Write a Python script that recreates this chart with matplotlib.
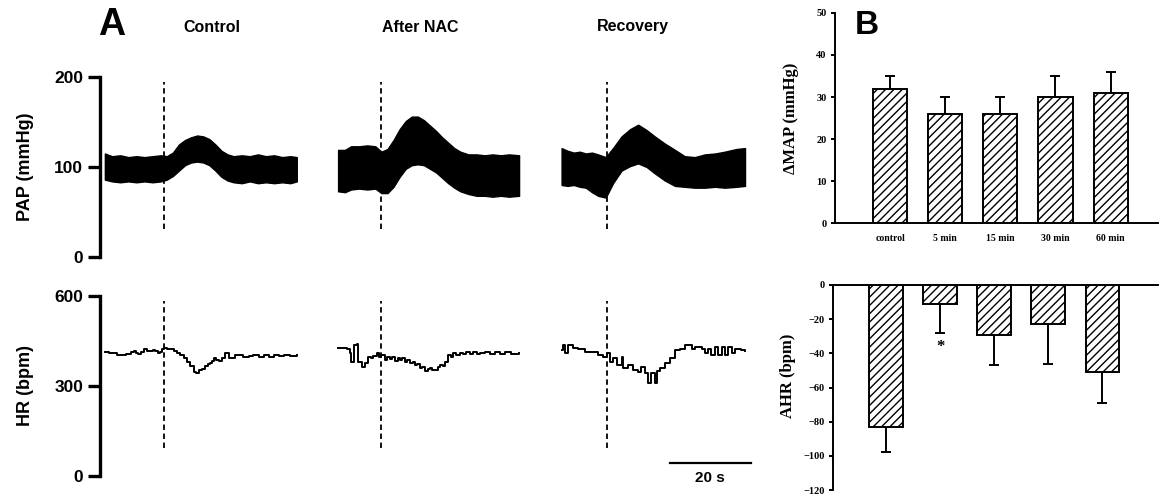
import matplotlib
matplotlib.use("Agg")
import matplotlib.pyplot as plt
import matplotlib.transforms as mtransforms
import numpy as np

# ---------------- Panel A data (time in s) ----------------
conditions = ["Control", "After NAC", "Recovery"]
injection_t = [15.8, 69.4, 125.2]

ctrl_pap_t = [1.2, 3, 5, 7, 9, 11, 13, 15, 16.5, 18, 19.5, 21, 22.5, 24, 25.5, 27, 28.5,
              30, 31.5, 33, 35, 37, 39, 41, 43, 45, 47, 48.6]
ctrl_pap_hi = [115, 112, 113, 111, 112, 111, 112, 113, 112, 116, 125, 130, 133, 135, 134, 131,
               125, 118, 114, 112, 113, 112, 114, 112, 113, 111, 112, 111]
ctrl_pap_lo = [86, 84, 83, 84, 83, 84, 83, 84, 86, 90, 96, 102, 105, 106, 105, 102, 96, 89,
               85, 83, 82, 84, 82, 83, 82, 83, 82, 84]

nac_pap_t = [58.8, 60.5, 62, 64, 66, 68, 69.5, 71, 72.5, 74, 75.5, 77, 78.5, 80, 81.5, 83,
             84.5, 86, 87.5, 89, 91, 93, 95, 97, 99, 101, 103.5]
nac_pap_hi = [119, 119, 123, 123, 124, 123, 117, 120, 130, 142, 151, 156, 156, 152, 146, 140,
              133, 127, 121, 117, 114, 114, 113, 114, 113, 114, 113]
nac_pap_lo = [73, 72, 75, 76, 75, 76, 71, 71, 78, 89, 98, 102, 103, 102, 98, 94, 88, 82, 77,
              73, 70, 68, 68, 67, 68, 67, 68]

rec_pap_t = [114.0, 115.5, 117, 118.5, 120, 121.5, 123, 124.9, 126.7, 128.8, 130.9, 132.9,
             135.0, 137.0, 139.5, 142.0, 144.4, 146.9, 149.4, 151.9, 154.3, 157.2, 159.3]
rec_pap_hi = [121, 118, 116, 117, 115, 116, 114, 111, 121, 134, 142, 147, 141, 134, 126, 119,
              112, 111, 114, 115, 117, 120, 121]
rec_pap_lo = [80, 79, 80, 78, 77, 72, 68, 66, 82, 96, 101, 104, 100, 93, 85, 79, 78, 77, 77,
              78, 77, 78, 79]

ctrl_hr_t = [1.3, 2.2, 3.0, 4.2, 5.4, 6.3, 7.1, 7.7, 8.3, 9.0, 9.5, 10.2, 10.8, 11.6, 12.4,
             13.0, 13.7, 14.3, 14.9, 15.3, 15.7, 16.5, 17.4, 18.2, 19.0, 19.8, 20.7, 21.5,
             22.3, 23.1, 23.8, 24.4, 25.2, 26.0, 26.6, 27.2, 27.7, 28.1, 28.7, 29.3, 30.1,
             30.9, 31.8, 32.6, 33.4, 34.2, 35.4, 36.7, 37.9, 39.2, 40.4, 41.7, 42.9, 44.1,
             45.5, 47.0, 48.6]
ctrl_hr = [414, 410, 409, 404, 403, 406, 407, 412, 418, 410, 406, 414, 422, 418, 416, 420, 418,
           410, 415, 422, 426, 424, 422, 416, 410, 402, 392, 380, 367, 348, 344, 352, 358, 367,
           372, 378, 385, 394, 386, 383, 395, 409, 395, 392, 404, 403, 398, 399, 404, 397, 403,
           398, 404, 400, 403, 401, 403]

nac_hr_t = [58.8, 60.0, 60.9, 61.7, 62.1, 62.7, 63.4, 63.8, 64.6, 65.4, 66.3, 67.0, 67.5, 68.3,
            69.0, 69.5, 70.4, 71.0, 71.6, 72.2, 72.8, 73.5, 74.1, 74.7, 75.3, 75.9, 76.5, 77.2,
            77.8, 78.4, 79.0, 79.6, 80.2, 80.9, 81.5, 82.1, 82.7, 83.4, 84.0, 84.6, 85.2, 86.0,
            86.6, 87.2, 88.0, 88.9, 89.7, 90.5, 91.4, 92.2, 93.0, 93.8, 95.0, 96.3, 97.5, 98.8,
            100.0, 101.5, 103.5]
nac_hr = [426, 428, 422, 409, 381, 437, 440, 381, 364, 378, 398, 392, 400, 409, 398, 403, 387,
          396, 390, 398, 384, 392, 386, 394, 381, 388, 376, 380, 370, 374, 359, 364, 350, 356,
          359, 352, 353, 362, 370, 366, 381, 403, 398, 409, 404, 410, 406, 414, 408, 412, 406,
          410, 413, 408, 412, 407, 413, 408, 410]

rec_hr_t = [114.0, 114.4, 114.8, 115.6, 116.9, 118.1, 119.8, 121.4, 123.0, 124.3, 125.1, 125.9,
            126.7, 127.6, 128.8, 129.2, 130.5, 131.7, 132.9, 133.7, 134.6, 135.4, 136.2, 137.0,
            137.5, 138.3, 139.5, 140.7, 142.0, 143.2, 144.4, 146.1, 146.9, 148.6, 149.4, 150.2,
            151.0, 151.9, 152.7, 153.5, 154.3, 155.1, 156.0, 156.8, 158.4, 159.3]
rec_hr = [420, 437, 409, 437, 426, 422, 414, 412, 403, 398, 410, 381, 392, 370, 398, 359, 370,
          353, 348, 365, 342, 309, 342, 309, 350, 359, 376, 392, 420, 425, 437, 425, 430, 425,
          409, 425, 403, 430, 403, 430, 403, 430, 409, 425, 420, 418]

scale_bar_s = 20
scale_bar_end = 160.7

# ---------------- Panel B data ----------------
categories = ["control", "5 min", "15 min", "30 min", "60 min"]
dmap_mean = [32, 26, 26, 30, 31]
dmap_err = [3, 4, 4, 5, 5]
dhr_mean = [-83, -11, -29, -23, -51]
dhr_err = [15, 17, 18, 23, 18]
significant = [False, True, False, False, False]

# ---------------- Drawing ----------------
plt.rcParams['hatch.linewidth'] = 1.0
SANS = ['Liberation Sans', 'DejaVu Sans']
SERIF = ['Liberation Serif', 'DejaVu Serif']

W, H = 1163, 498
fig = plt.figure(figsize=(W / 100, H / 100), dpi=100)


def rect(l, t, r, b):
    return [l / W, 1 - b / H, (r - l) / W, (b - t) / H]


ax_p = fig.add_axes(rect(100, 77, 760, 257))
ax_h = fig.add_axes(rect(100, 296, 760, 476))
for ax, ylim, ticks in ((ax_p, (0, 200), [0, 100, 200]), (ax_h, (0, 600), [0, 300, 600])):
    ax.set_xlim(0, 163)
    ax.set_ylim(*ylim)
    ax.set_yticks(ticks)
    ax.set_xticks([])
    for s in ('top', 'right', 'bottom'):
        ax.spines[s].set_visible(False)
    ax.spines['left'].set_linewidth(2.4)
    ax.tick_params(axis='y', length=9, width=2.4, pad=3, labelsize=12.5)
    for lab in ax.get_yticklabels():
        lab.set_fontweight('bold')
        lab.set_family(SANS)
    ax.patch.set_alpha(0)

for t, hi, lo in ((ctrl_pap_t, ctrl_pap_hi, ctrl_pap_lo),
                  (nac_pap_t, nac_pap_hi, nac_pap_lo),
                  (rec_pap_t, rec_pap_hi, rec_pap_lo)):
    ax_p.fill_between(t, lo, hi, color='black', linewidth=1.0, edgecolor='black')

for t, v in ((ctrl_hr_t, ctrl_hr), (nac_hr_t, nac_hr), (rec_hr_t, rec_hr)):
    ax_h.plot(t, v, color='black', lw=1.4, drawstyle='steps-post')

for t in injection_t:
    for ax in (ax_p, ax_h):
        ax.axvline(t, ymin=0.155, ymax=0.97, color='black', lw=1.3, ls=(0, (3, 2)))

trans = mtransforms.blended_transform_factory(ax_h.transData, ax_h.transAxes)
ax_h.plot([scale_bar_end - scale_bar_s, scale_bar_end], [0.072, 0.072], color='black',
          lw=1.6, transform=trans, clip_on=False)
ax_h.text(scale_bar_end - scale_bar_s / 2, -0.01, f"{scale_bar_s} s", transform=trans,
          ha='center', va='center', fontsize=11, fontweight='bold', family=SANS)

for name, xc in zip(conditions, [212, 420, 633]):
    fig.text(xc / W, 1 - 27 / H, name, ha='center', va='center', fontsize=11.5,
             fontweight='bold', family=SANS)

fig.text(26 / W, 1 - 167 / H, 'PAP (mmHg)', rotation=90, ha='center', va='center',
         fontsize=13, fontweight='bold', family=SANS)
fig.text(26 / W, 1 - 386 / H, 'HR (bpm)', rotation=90, ha='center', va='center',
         fontsize=13, fontweight='bold', family=SANS)
fig.text(112 / W, 1 - 25 / H, 'A', ha='center', va='center', fontsize=27,
         fontweight='bold', family=SANS)
fig.text(867 / W, 1 - 26 / H, 'B', ha='center', va='center', fontsize=24,
         fontweight='bold', family=SANS)

# Panel B top
x = np.arange(len(categories))
ax_m = fig.add_axes(rect(835, 13, 1158, 223))
ax_m.bar(x, dmap_mean, width=0.62, color='white', edgecolor='black', hatch='////',
         linewidth=1.4, zorder=2)
ax_m.errorbar(x, dmap_mean, yerr=[np.zeros(len(x)), dmap_err], fmt='none', ecolor='black',
              elinewidth=1.4, capsize=3.5, capthick=1.4, zorder=1)
ax_m.set_xlim(-1.0, 4.86)
ax_m.set_ylim(0, 50)
ax_m.set_yticks(range(0, 51, 10))
ax_m.set_xticks(x)
ax_m.set_xticklabels(categories)
for s in ('top', 'right'):
    ax_m.spines[s].set_visible(False)
for s in ('left', 'bottom'):
    ax_m.spines[s].set_linewidth(1.4)
ax_m.tick_params(axis='x', length=0, pad=8, labelsize=7)
ax_m.tick_params(axis='y', length=3, width=1.4, pad=3, labelsize=7.5)
for lab in ax_m.get_xticklabels() + ax_m.get_yticklabels():
    lab.set_fontweight('bold')
    lab.set_family(SERIF)
fig.text(791 / W, 1 - 118 / H, 'ΔMAP (mmHg)', rotation=90, ha='center', va='center',
         fontsize=12, fontweight='bold', family=SERIF)

# Panel B bottom
ax_r = fig.add_axes(rect(833, 285, 1158, 490))
ax_r.bar(x, dhr_mean, width=0.62, color='white', edgecolor='black', hatch='////',
         linewidth=1.4, zorder=2)
ax_r.errorbar(x, dhr_mean, yerr=[dhr_err, np.zeros(len(x))], fmt='none', ecolor='black',
              elinewidth=1.4, capsize=3.5, capthick=1.4, zorder=1)
ax_r.set_xlim(-0.98, 5.03)
ax_r.set_ylim(-120, 0)
ax_r.set_yticks(range(-120, 1, 20))
ax_r.set_xticks([])
for s in ('top', 'right'):
    ax_r.spines[s].set_visible(False)
ax_r.spines['bottom'].set_position(('data', 0))
for s in ('left', 'bottom'):
    ax_r.spines[s].set_linewidth(1.4)
ax_r.tick_params(axis='y', length=3, width=1.4, pad=3, labelsize=7.5)
for lab in ax_r.get_yticklabels():
    lab.set_fontweight('bold')
    lab.set_family(SERIF)
for xi, m, e, sig in zip(x, dhr_mean, dhr_err, significant):
    if sig:
        ax_r.text(xi, m - e - 8, '*', ha='center', va='center', fontsize=12,
                  fontweight='bold', family=SERIF)
fig.text(788 / W, 1 - 376 / H, 'AHR (bpm)', rotation=90, ha='center', va='center',
         fontsize=12, fontweight='bold', family=SERIF)

fig.savefig('out.png', dpi=100)
